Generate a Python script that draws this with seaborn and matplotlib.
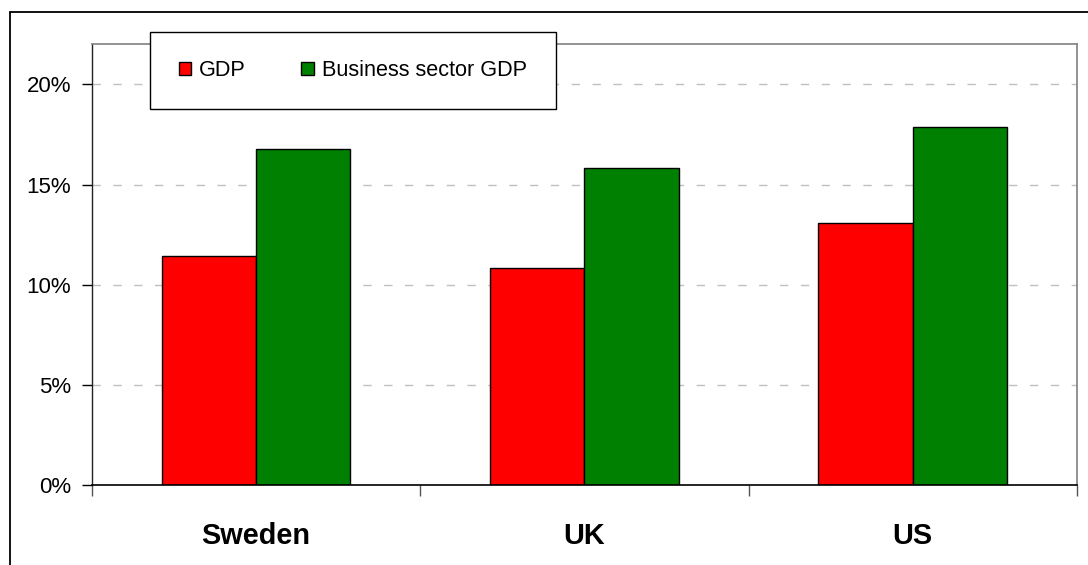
import matplotlib
matplotlib.use("Agg")
import matplotlib.pyplot as plt
import matplotlib.patches as mpatches
import matplotlib.lines as mlines
from matplotlib.ticker import FuncFormatter, FixedLocator
import pandas as pd
import seaborn as sns

# Values (percent)
countries = ["Sweden", "UK", "US"]
gdp = [11.44, 10.84, 13.10]
business_gdp = [16.76, 15.83, 17.87]
series_names = ["GDP", "Business sector GDP"]
series_colors = ["#FF0000", "#008000"]
y_ticks = [0, 5, 10, 15, 20]

df = pd.DataFrame({
    "country": countries * 2,
    "series": [series_names[0]] * len(countries) + [series_names[1]] * len(countries),
    "value": gdp + business_gdp,
})

sns.set_style("white")
plt.rcParams["font.family"] = ["Liberation Sans", "DejaVu Sans"]
plt.rcParams["text.color"] = "black"
plt.rcParams["xtick.color"] = "black"
plt.rcParams["ytick.color"] = "black"

fig = plt.figure(figsize=(10.88, 5.65), dpi=100)
ax = fig.add_axes([0.0843, 0.1416, 0.9056, 0.78])

sns.barplot(
    data=df, x="country", y="value", hue="series", order=countries,
    hue_order=series_names, palette=series_colors, width=0.575,
    edgecolor="black", linewidth=1.0, saturation=1, errorbar=None, ax=ax,
)
if ax.get_legend() is not None:
    ax.get_legend().remove()

ax.set_xlim(-0.5, len(countries) - 0.5)
ax.set_ylim(0, 22)
ax.set_xlabel("")
ax.set_ylabel("")

# y axis
ax.yaxis.set_major_locator(FixedLocator(y_ticks))
ax.yaxis.set_major_formatter(FuncFormatter(lambda v, p: f"{v:.0f}%"))
ax.tick_params(axis="y", which="major", direction="out", length=7, width=1,
               color="black", labelcolor="black", pad=8, labelsize=16, left=True)
for yv in y_ticks[1:]:
    ax.axhline(yv, color="#c0c0c0", linewidth=1, linestyle=(0, (6, 9)), zorder=0)

# x axis: labels at centres, ticks at category boundaries
ax.set_xticks(range(len(countries)))
ax.set_xticklabels(countries, fontsize=20.8, fontweight="bold", color="black")
ax.tick_params(axis="x", which="major", length=0, pad=27)
ax.set_xticks([i - 0.5 for i in range(len(countries) + 1)], minor=True)
ax.tick_params(axis="x", which="minor", direction="out", length=8, width=1,
               color="#555555", bottom=True)

for side in ["top", "right"]:
    ax.spines[side].set_color("#808080")
    ax.spines[side].set_linewidth(1.2)
ax.spines["left"].set_color("#222222")
ax.spines["bottom"].set_color("black")
ax.spines["left"].set_linewidth(1)
ax.spines["bottom"].set_linewidth(1.2)

# Legend box
W, H = 1088, 565
box = mpatches.Rectangle((150 / W, 1 - 109 / H), 406 / W, 77 / H,
                         transform=fig.transFigure, facecolor="white",
                         edgecolor="black", linewidth=1, zorder=3)
fig.patches.append(box)
handles = [mpatches.Patch(facecolor=c, edgecolor="black", linewidth=1)
           for c in series_colors]
fig.legend(handles, series_names, loc="center left",
           bbox_to_anchor=(170 / W, 1 - 70.5 / H), ncol=2, frameon=False,
           fontsize=15.6, handlelength=0.58, handleheight=0.58,
           handletextpad=0.37, columnspacing=2.55, borderaxespad=0,
           labelcolor="black")

# Outer frame of the chart area
fig.lines.append(mlines.Line2D([10 / W, 10 / W], [0, 1 - 12 / H],
                               transform=fig.transFigure, color="black", linewidth=1.3))
fig.lines.append(mlines.Line2D([10 / W, 1], [1 - 12 / H, 1 - 12 / H],
                               transform=fig.transFigure, color="black", linewidth=1.3))

fig.savefig("out.png", dpi=100)
